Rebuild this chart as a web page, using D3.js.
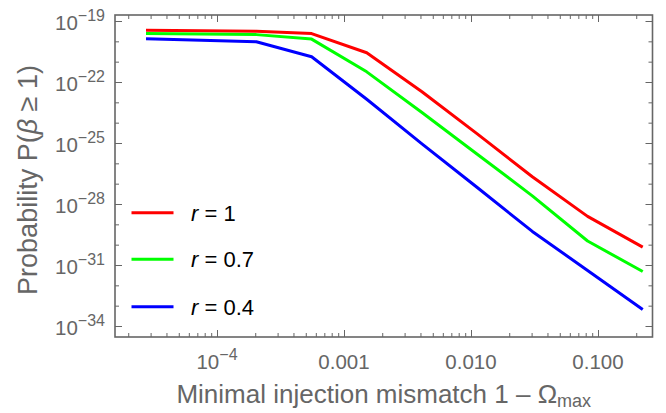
<!DOCTYPE html>
<html>
<head>
<meta charset="utf-8">
<script src="https://cdn.jsdelivr.net/npm/d3@7"></script>
<style>
  html, body { margin: 0; padding: 0; background: #fff; }
  svg { display: block; font-family: "Liberation Sans", Arial, sans-serif; }
</style>
</head>
<body>
<svg id="chart" width="666" height="413"></svg>
<script>
// Minimal injection mismatch 1 - Omega_max (sampled points)
const mismatch = [2.76e-5, 7.52e-5, 2.04e-4, 5.56e-4, 1.51e-3, 4.11e-3, 1.12e-2, 3.04e-2, 8.28e-2, 0.225];

// log10 of P(beta >= 1) for each squeezing ratio r
const logP_r1  = [-19.46, -19.48, -19.51, -19.62, -20.56, -22.48, -24.55, -26.66, -28.61, -30.12];
const logP_r07 = [-19.61, -19.64, -19.67, -19.89, -21.50, -23.50, -25.55, -27.60, -29.82, -31.32];
const logP_r04 = [-19.87, -19.95, -20.02, -20.76, -22.85, -25.04, -27.19, -29.35, -31.27, -33.19];

const seriesNames = ["1", "0.7", "0.4"];
const seriesColors = ["#ff0000", "#00ff00", "#0000ff"];

// Tick labels
const xMajorTicks = [1e-4, 1e-3, 1e-2, 1e-1];
const xTickLabels = [["10", "\u22124"], ["0.001"], ["0.010"], ["0.100"]];
const yLabelExps = [-19, -22, -25, -28, -31, -34];

const svg = d3.select("#chart");
const frame = { left: 115, right: 652.5, top: 15, bottom: 337 };
const axisGray = "#666666";

const x = d3.scaleLog().domain([1e-4, 1e-1]).range([217, 598]);
const y = d3.scaleLog().domain([1e-34, 1e-19]).range([326, 21]);

// minor x ticks 2..9 per decade inside frame
const xMinor = [];
for (let e = -5; e <= 0; e++) {
  for (let m = 2; m <= 9; m++) {
    const v = m * Math.pow(10, e);
    const px = x(v);
    if (px > frame.left + 1 && px < frame.right - 1) xMinor.push(v);
  }
}
const yAll = d3.range(-34, -18).map(e => Math.pow(10, e));
const yMajor = yLabelExps.map(e => Math.pow(10, e));
const yMinor = yAll.filter(v => !yLabelExps.includes(Math.round(Math.log10(v))));

function styleAxis(g) {
  g.select(".domain").remove();
  g.selectAll(".tick line").attr("stroke", axisGray).attr("stroke-width", 1);
  g.selectAll(".tick text").remove();
}

// bottom & top ticks (inward)
[[frame.bottom, d3.axisBottom], [frame.top, d3.axisTop]].forEach(([py, axisFn]) => {
  svg.append("g").attr("transform", `translate(0,${py})`)
    .call(axisFn(x).tickValues(xMajorTicks).tickSize(-7).tickFormat(""))
    .call(styleAxis);
  svg.append("g").attr("transform", `translate(0,${py})`)
    .call(axisFn(x).tickValues(xMinor).tickSize(-4).tickFormat(""))
    .call(styleAxis);
});

// left & right ticks (inward)
[[frame.left, d3.axisLeft], [frame.right, d3.axisRight]].forEach(([px, axisFn]) => {
  svg.append("g").attr("transform", `translate(${px},0)`)
    .call(axisFn(y).tickValues(yMajor).tickSize(-7).tickFormat(""))
    .call(styleAxis);
  svg.append("g").attr("transform", `translate(${px},0)`)
    .call(axisFn(y).tickValues(yMinor).tickSize(-4).tickFormat(""))
    .call(styleAxis);
});

// frame
svg.append("rect")
  .attr("x", frame.left).attr("y", frame.top)
  .attr("width", frame.right - frame.left).attr("height", frame.bottom - frame.top)
  .attr("fill", "none").attr("stroke", axisGray).attr("stroke-width", 1.6);

// x tick labels
xMajorTicks.forEach((v, i) => {
  const t = svg.append("text")
    .attr("x", x(v)).attr("y", 369)
    .attr("text-anchor", "middle")
    .attr("fill", axisGray).attr("font-size", 20.5);
  const parts = xTickLabels[i];
  t.append("tspan").text(parts[0]);
  if (parts.length > 1) {
    t.append("tspan").attr("dy", -9).attr("font-size", 16).text(parts[1]);
  }
});

// y tick labels
yLabelExps.forEach(e => {
  const t = svg.append("text")
    .attr("x", 105).attr("y", y(Math.pow(10, e)) + 9)
    .attr("text-anchor", "end")
    .attr("fill", axisGray).attr("font-size", 20.5);
  t.append("tspan").text("10");
  t.append("tspan").attr("dy", -9.5).attr("font-size", 16).text("\u2212" + Math.abs(e));
});

// axis titles
const xt = svg.append("text")
  .attr("x", (frame.left + frame.right) / 2).attr("y", 403)
  .attr("text-anchor", "middle")
  .attr("fill", axisGray).attr("font-size", 26);
xt.append("tspan").text("Minimal injection mismatch 1 \u2013 \u03A9");
xt.append("tspan").attr("dy", 4).attr("font-size", 18).text("max");

const yt = svg.append("text")
  .attr("transform", "translate(37,180) rotate(-90)")
  .attr("text-anchor", "middle")
  .attr("fill", axisGray).attr("font-size", 27);
yt.append("tspan").text("Probability P(");
yt.append("tspan").attr("font-style", "italic").text("\u03B2");
yt.append("tspan").text(" \u2265 1)");

// curves
const allSeries = [logP_r1, logP_r07, logP_r04];
const line = d3.line()
  .x(d => x(d[0]))
  .y(d => y(Math.pow(10, d[1])));

const plot = svg.append("g");
plot.append("clipPath").attr("id", "clip").append("rect")
  .attr("x", frame.left).attr("y", frame.top)
  .attr("width", frame.right - frame.left).attr("height", frame.bottom - frame.top);

allSeries.forEach((vals, i) => {
  plot.append("path")
    .datum(mismatch.map((m, k) => [m, vals[k]]))
    .attr("clip-path", "url(#clip)")
    .attr("fill", "none")
    .attr("stroke", seriesColors[i])
    .attr("stroke-width", 3)
    .attr("stroke-linejoin", "round")
    .attr("d", line);
});

// legend
const legendY = [212.7, 259.3, 306.7];
seriesNames.forEach((name, i) => {
  svg.append("line")
    .attr("x1", 131.5).attr("x2", 173.5)
    .attr("y1", legendY[i]).attr("y2", legendY[i])
    .attr("stroke", seriesColors[i]).attr("stroke-width", 3);
  const t = svg.append("text")
    .attr("x", 191).attr("y", legendY[i] + 8)
    .attr("fill", "#000").attr("font-size", 22);
  t.append("tspan").attr("font-style", "italic").text("r");
  t.append("tspan").text(" = " + name);
});
</script>
</body>
</html>
